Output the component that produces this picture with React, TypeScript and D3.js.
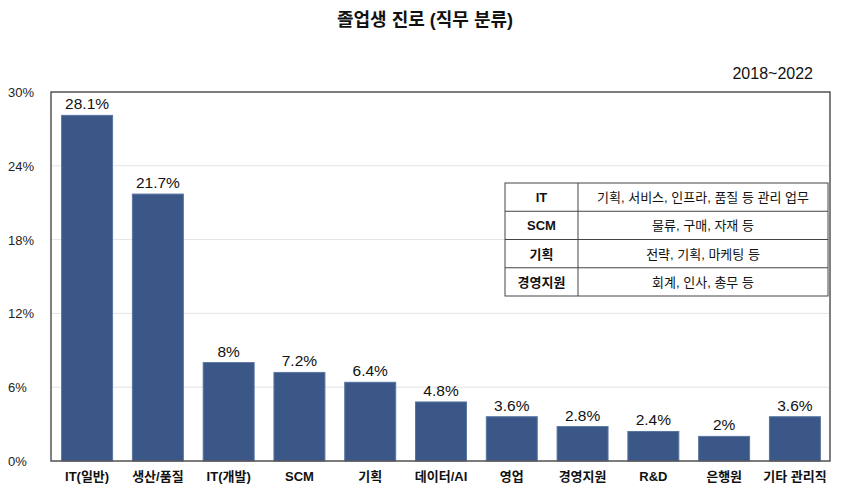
import React from "react";
import * as d3 from "d3";

const categories = ["IT(일반)", "생산/품질", "IT(개발)", "SCM", "기획", "데이터/AI", "영업", "경영지원", "R&D", "은행원", "기타 관리직"];
const values = [28.1, 21.7, 8, 7.2, 6.4, 4.8, 3.6, 2.8, 2.4, 2, 3.6];
const yTicks = [0, 6, 12, 18, 24, 30];
const tableKeys = ["IT", "SCM", "기획", "경영지원"];
const tableDescs = ["기획, 서비스, 인프라, 품질 등 관리 업무", "물류, 구매, 자재 등", "전략, 기획, 마케팅 등", "회계, 인사, 총무 등"];

const W = 850, H = 500;
const M = { left: 51, right: 20, top: 92, bottom: 39 };
const FONT = "'Liberation Sans', Arial, 'Noto Sans CJK KR', sans-serif";

export default function App() {
  const x = d3.scaleBand<string>().domain(categories).range([M.left, W - M.right + 1]).paddingInner(0.28).paddingOuter(0.15);
  const y = d3.scaleLinear().domain([0, 30]).range([H - M.bottom, M.top]);
  const tX = 505, tW = 323, tY = 183, rowH = 28.25, colW = 73;
  return (
    <svg width={W} height={H} style={{ position: "absolute", left: 0, top: 0, fontFamily: FONT }}>
      <rect x={0} y={0} width={W} height={H} fill="#fff" />
      <text x={W / 2} y={26} textAnchor="middle" fontSize={18} fontWeight="bold" fill="#111">졸업생 진로 (직무 분류)</text>
      <text x={813} y={79} textAnchor="end" fontSize={16} fill="#111">2018~2022</text>
      {yTicks.map(t => (
        <g key={t}>
          <line x1={M.left} x2={W - M.right} y1={y(t)} y2={y(t)} stroke="#e3e3e3" strokeWidth={1} />
          <text x={8} y={y(t) + 5} fontSize={13} fill="#222">{t}%</text>
        </g>
      ))}
      {categories.map((c, i) => (
        <g key={c}>
          <rect x={x(c)} y={y(values[i])} width={x.bandwidth()} height={y(0) - y(values[i])} fill="#3a5787" stroke="#5a75a3" strokeWidth={1} />
          <text x={(x(c) as number) + x.bandwidth() / 2} y={y(values[i]) - 6} textAnchor="middle" fontSize={15.5} fill="#111">{values[i]}%</text>
          <text x={(x(c) as number) + x.bandwidth() / 2} y={481} textAnchor="middle" fontSize={13} fontWeight="bold" fill="#111">{c}</text>
        </g>
      ))}
      <rect x={M.left} y={M.top} width={W - M.right - M.left} height={H - M.bottom - M.top} fill="none" stroke="#555" strokeWidth={1.5} />
      <g>
        <rect x={tX} y={tY} width={tW} height={rowH * 4} fill="#fff" stroke="#444" strokeWidth={1} />
        {tableKeys.map((k, i) => (
          <g key={k}>
            {i > 0 && <line x1={tX} x2={tX + tW} y1={tY + rowH * i} y2={tY + rowH * i} stroke="#444" strokeWidth={1} />}
            <text x={tX + colW / 2} y={tY + rowH * i + rowH / 2 + 5} textAnchor="middle" fontSize={13} fontWeight="bold" fill="#111">{k}</text>
            <text x={tX + colW + (tW - colW) / 2} y={tY + rowH * i + rowH / 2 + 5} textAnchor="middle" fontSize={13} fill="#111">{tableDescs[i]}</text>
          </g>
        ))}
        <line x1={tX + colW} x2={tX + colW} y1={tY} y2={tY + rowH * 4} stroke="#444" strokeWidth={1} />
      </g>
    </svg>
  );
}
